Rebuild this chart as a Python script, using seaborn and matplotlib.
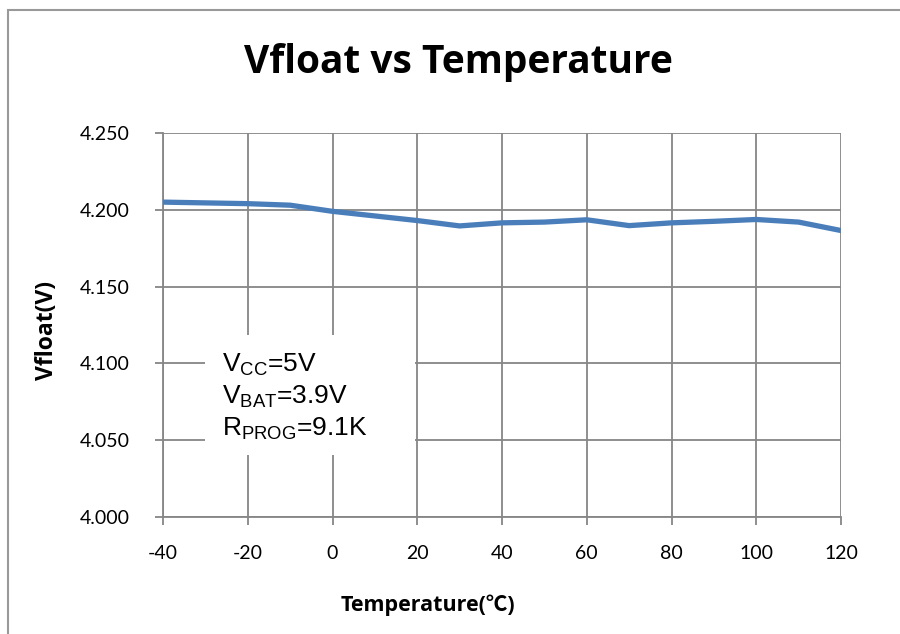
import matplotlib
matplotlib.use("Agg")
import matplotlib.pyplot as plt
import matplotlib.patches as patches
import seaborn as sns
import pandas as pd

# values
temperature = [-40, -30, -20, -10, 0, 10, 20, 30, 40, 50, 60, 70, 80, 90, 100, 110, 120]
vfloat = [4.205, 4.2045, 4.204, 4.203, 4.199, 4.196, 4.193, 4.1895, 4.1915, 4.192,
          4.1935, 4.1897, 4.1915, 4.1925, 4.1937, 4.192, 4.1865]
x_ticks = [-40, -20, 0, 20, 40, 60, 80, 100, 120]
y_ticks = [4.000, 4.050, 4.100, 4.150, 4.200, 4.250]
conditions = [r"$\mathregular{V_{CC}}$=5V",
              r"$\mathregular{V_{BAT}}$=3.9V",
              r"$\mathregular{R_{PROG}}$=9.1K"]

df = pd.DataFrame({"Temperature": temperature, "Vfloat": vfloat})

sns.set_style("white")
plt.rcParams["font.family"] = ["Lato", "Noto Sans CJK SC", "DejaVu Sans"]
plt.rcParams["axes.unicode_minus"] = False
plt.rcParams["text.color"] = "black"
plt.rcParams["xtick.labelcolor"] = "black"
plt.rcParams["ytick.labelcolor"] = "black"

grid_color = "#868686"
fig = plt.figure(figsize=(9, 6.34), dpi=100)
ax = fig.add_axes([163 / 900, 1 - 517 / 634, (841 - 163) / 900, (517 - 133) / 634])

sns.lineplot(data=df, x="Temperature", y="Vfloat", ax=ax, color="#4A7EBB",
             linewidth=3.8, solid_joinstyle="round", solid_capstyle="round", zorder=3)

ax.set_xlim(-40, 120)
ax.set_ylim(4.0, 4.25)
ax.set_xticks(x_ticks)
ax.set_yticks(y_ticks)
ax.set_yticklabels([f"{v:.3f}" for v in y_ticks])
ax.grid(True, color=grid_color, linewidth=1.3)
ax.set_axisbelow(True)
for side in ["top", "right"]:
    ax.spines[side].set_visible(False)
for side in ["left", "bottom"]:
    ax.spines[side].set_color(grid_color)
    ax.spines[side].set_linewidth(1.3)
ax.tick_params(axis="both", which="major", length=6, width=1.3, color=grid_color,
               labelsize=14, labelcolor="black", direction="out", left=True, bottom=True)
ax.tick_params(axis="y", pad=18)
ax.tick_params(axis="x", pad=14)
ax.set_xlabel("")
ax.set_ylabel("")

fig.text(458 / 900, 1 - 73 / 634, "Vfloat vs Temperature", fontsize=28,
         fontweight="bold", family=["Open Sans", "DejaVu Sans"], color="black",
         ha="center", va="baseline")
fig.text(428 / 900, 1 - 605 / 634, "Temperature(℃)", fontsize=15.5,
         fontweight="bold", family=["Open Sans", "Noto Sans CJK SC", "DejaVu Sans"],
         color="black", ha="center", va="center")
fig.text(47 / 900, 1 - 331 / 634, "Vfloat(V)", fontsize=16.5, fontweight="bold",
         family=["Open Sans", "DejaVu Sans"], color="black", rotation=90,
         ha="center", va="center")

# condition box
ax.add_patch(patches.Rectangle((-30.1, 4.0404), 49.6, 0.078, facecolor="white",
                               edgecolor="none", zorder=2))
for i, line in enumerate(conditions):
    ax.text(-26.1, 4.0944 - i * 0.0208, line, fontsize=19, family="Liberation Sans",
            color="black", va="baseline", ha="left", zorder=4)

# outer frame of the original chart
fig.add_artist(patches.Rectangle((8 / 900, -0.1), 1.2, 1 - 10 / 634 + 0.1,
                                 transform=fig.transFigure, fill=False,
                                 edgecolor="#999999", linewidth=1.5))

fig.savefig("out.png", dpi=100)
